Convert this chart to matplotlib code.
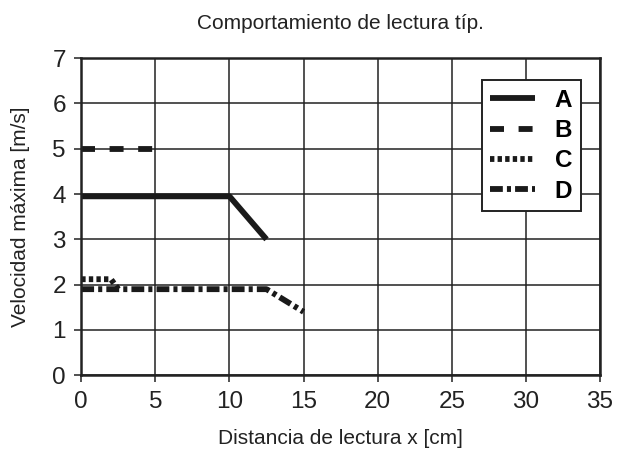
import matplotlib
matplotlib.use("Agg")
import matplotlib.pyplot as plt

plt.rcParams['font.family'] = ['Liberation Sans', 'DejaVu Sans']

# data
a_x = [0, 10, 12.5]
a_y = [3.95, 3.95, 3.0]
b_x = [0, 5]
b_y = [5, 5]
c_x = [0, 2, 2.5]
c_y = [2.12, 2.12, 1.9]
d_x = [0, 12.5, 15]
d_y = [1.9, 1.9, 1.4]

fig = plt.figure(figsize=(6.25, 4.51), dpi=100)
ax = fig.add_axes([0.13, 0.168, 0.83, 0.703])

lw = 4.2
col = '#1a1a1a'
ax.plot(a_x, a_y, color=col, lw=lw, solid_capstyle='butt', label='A')
ax.plot(b_x, b_y, color=col, lw=lw, dashes=(2.4, 2.5), label='B')
ax.plot(c_x, c_y, color=col, lw=lw, dashes=(0.75, 0.55), label='C')
ax.plot(d_x, d_y, color=col, lw=lw, dashes=(2.2, 0.7, 0.7, 0.7), label='D')

ax.set_xlim(0, 35)
ax.set_ylim(0, 7)
ax.set_xticks(range(0, 36, 5))
ax.set_yticks(range(0, 8))
ax.grid(True, color='#222222', lw=1.1)
ax.set_axisbelow(True)
for s in ax.spines.values():
    s.set_linewidth(1.8)
    s.set_color('#222222')
ax.tick_params(labelsize=17.5, length=5, width=1.1, direction='out', pad=6,
               color='#222222', labelcolor='#222222')

ax.set_title('Comportamiento de lectura típ.', fontsize=15, pad=21, color='#222222')
ax.set_xlabel('Distancia de lectura x [cm]', fontsize=15, labelpad=12, color='#222222')
ax.set_ylabel('Velocidad máxima [m/s]', fontsize=15, labelpad=16, color='#222222')

leg = ax.legend(loc='upper right', bbox_to_anchor=(0.963, 0.93), borderaxespad=0,
                fancybox=False, framealpha=1, edgecolor='#222222', handlelength=1.85,
                prop={'weight': 'bold', 'size': 17.5}, borderpad=0.35,
                labelspacing=0.3, handletextpad=0.8)
leg.get_frame().set_linewidth(1.4)

fig.savefig('out.png', dpi=100)
